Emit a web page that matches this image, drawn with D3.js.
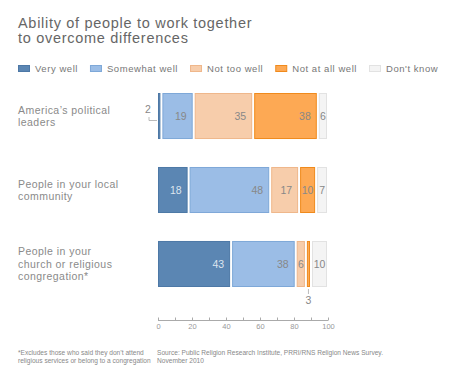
<!DOCTYPE html>
<html>
<head>
<meta charset="utf-8">
<script src="https://cdn.jsdelivr.net/npm/d3@7"></script>
<style>
  html, body { margin: 0; padding: 0; background: #fff; }
  svg { display: block; font-family: "Liberation Sans", Arial, sans-serif; }
</style>
</head>
<body>
<svg id="chart" width="462" height="388"></svg>
<script>
// ---- data ----
const categories = [
  ["America\u2019s political", "leaders"],
  ["People in your local", "community"],
  ["People in your", "church or religious", "congregation*"]
];
const seriesNames = ["Very well", "Somewhat well", "Not too well", "Not at all well", "Don't know"];
const veryWell = [2, 18, 43];
const somewhatWell = [19, 48, 38];
const notTooWell = [35, 17, 6];
const notAtAllWell = [38, 10, 3];
const dontKnow = [6, 7, 10];
const axisTicks = [0, 20, 40, 60, 80, 100];

const fills = ["#5b86b3", "#9bbde6", "#f7cdab", "#fda954", "#f4f4f4"];
const strokes = ["#4d78a6", "#7ea8d8", "#efb78b", "#f08a1c", "#e2e2e2"];

const series = [veryWell, somewhatWell, notTooWell, notAtAllWell, dontKnow];

const svg = d3.select("#chart");

// title
svg.append("text")
  .attr("x", 18).attr("y", 28)
  .attr("font-size", 14.5).attr("fill", "#666").attr("letter-spacing", 0.7)
  .selectAll("tspan")
  .data(["Ability of people to work together", "to overcome differences"])
  .join("tspan")
  .attr("x", 18).attr("dy", (d, i) => i ? 15 : 0)
  .text(d => d);

// legend
const legend = svg.append("g").attr("transform", "translate(18,65)");
let lx = 0;
seriesNames.forEach((name, i) => {
  const g = legend.append("g").attr("transform", `translate(${lx},0)`);
  g.append("rect")
    .attr("x", 0.5).attr("y", 0.5).attr("width", 11).attr("height", 6)
    .attr("fill", fills[i]).attr("stroke", strokes[i]);
  const t = g.append("text")
    .attr("x", 17).attr("y", 7)
    .attr("font-size", 9.5).attr("fill", "#777").attr("letter-spacing", 0.55)
    .text(name);
  lx += 17 + t.node().getComputedTextLength() + 12;
});

// scales
const x = d3.scaleLinear().domain([0, 100]).range([158, 328]);
const y = d3.scaleBand().domain(d3.range(categories.length)).range([93, 287]).paddingInner(0.378).paddingOuter(0);

const stackData = categories.map((c, i) => series.map(s => s[i]));

categories.forEach((lines, i) => {
  const y0 = y(i), h = y.bandwidth();
  const mid = y0 + h / 2;
  // category label
  svg.append("text")
    .attr("font-size", 10.5).attr("fill", "#8a8a8a").attr("letter-spacing", 0.45)
    .selectAll("tspan").data(lines).join("tspan")
    .attr("x", 18)
    .attr("y", (d, k) => mid + 4 + (k - (lines.length - 1) / 2) * 12.5)
    .text(d => d);

  let start = 0;
  stackData[i].forEach((v, j) => {
    const x0 = x(start) + (j ? 1 : 0);
    const x1 = x(start + v) - 1;
    svg.append("rect")
      .attr("x", x0 + 0.5).attr("y", y0 + 0.5)
      .attr("width", Math.max(1, x1 - x0 - 1)).attr("height", h - 1)
      .attr("fill", fills[j]).attr("stroke", strokes[j]);
    const w = x1 - x0;
    const col = j === 0 ? "#dde5ef" : "#888";
    if (w > 22) {
      svg.append("text")
        .attr("x", x1 - 6).attr("y", mid + 4)
        .attr("text-anchor", "end").attr("font-size", 10.5).attr("fill", col)
        .text(v);
    } else if (w > 8) {
      svg.append("text")
        .attr("x", (x0 + x1) / 2).attr("y", mid + 4)
        .attr("text-anchor", "middle").attr("font-size", 10.5).attr("fill", col)
        .text(v);
    } else if (j === 0) {
      // callout to the left
      svg.append("text")
        .attr("x", x0 - 10).attr("y", mid - 3)
        .attr("text-anchor", "middle").attr("font-size", 10.5).attr("fill", "#888")
        .text(v);
      svg.append("path")
        .attr("d", `M${x0 - 9},${mid + 1}V${mid + 4.5}H${x0 - 1}`)
        .attr("fill", "none").attr("stroke", "#aaa").attr("stroke-width", 0.8);
    } else {
      // callout below
      const cx = (x0 + x1) / 2;
      svg.append("path")
        .attr("d", `M${cx},${y0 + h + 2}V${y0 + h + 7}`)
        .attr("stroke", "#aaa").attr("stroke-width", 0.8);
      svg.append("text")
        .attr("x", cx).attr("y", y0 + h + 17)
        .attr("text-anchor", "middle").attr("font-size", 10.5).attr("fill", "#888")
        .text(v);
    }
    start += v;
  });
});

// axis
const axis = d3.axisBottom(x).tickValues(d3.range(0, 101, 10)).tickSize(-3)
  .tickFormat(d => axisTicks.includes(d) ? d : "");
const ag = svg.append("g").attr("transform", "translate(0,320.5)").call(axis);
ag.select(".domain").attr("stroke", "#aaa").attr("d", `M${x(0)},0H${x(100)}`);
ag.selectAll(".tick line").attr("stroke", "#aaa");
ag.selectAll(".tick text").attr("fill", "#999").attr("font-size", 7.5)
  .attr("font-family", "Liberation Sans, Arial, sans-serif").attr("dy", "0.2em").attr("y", 7);

// footnotes
svg.append("text")
  .attr("font-size", 6.6).attr("fill", "#888")
  .selectAll("tspan")
  .data(["*Excludes those who said they don\u2019t attend", "religious services or belong to a congregation"])
  .join("tspan").attr("x", 18).attr("y", (d, i) => 355 + i * 7.5).text(d => d);
svg.append("text")
  .attr("font-size", 6.6).attr("fill", "#888")
  .selectAll("tspan")
  .data(["Source: Public Religion Research Institute, PRRI/RNS Religion News Survey.", "November 2010"])
  .join("tspan").attr("x", 157).attr("y", (d, i) => 355 + i * 7.5).text(d => d);
</script>
</body>
</html>
